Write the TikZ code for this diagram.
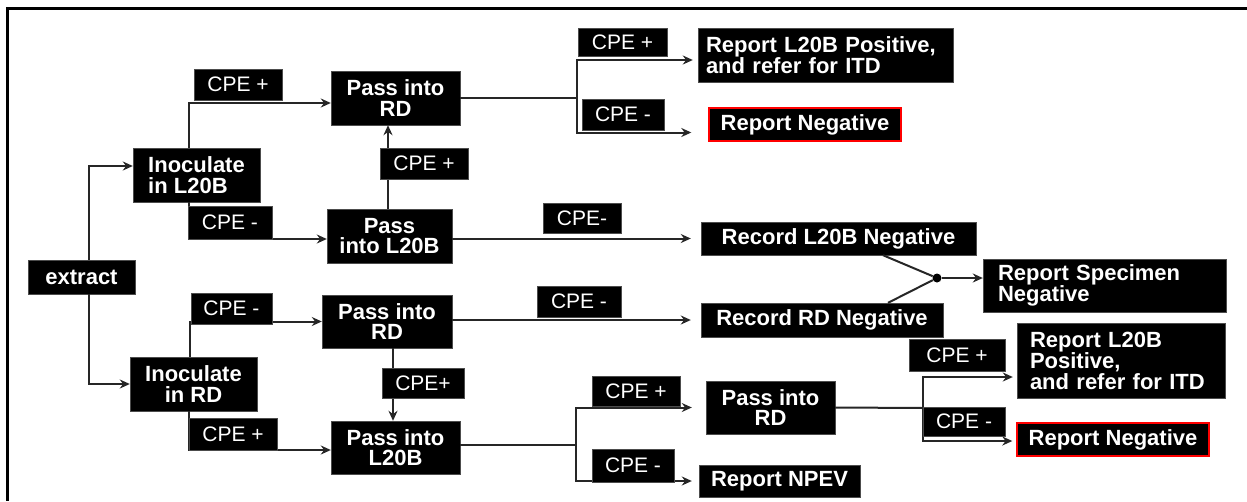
\documentclass[tikz,border=0pt]{standalone}
\usepackage{fontspec}
\setsansfont{Liberation Sans}
\usepackage{tikz}
\usetikzlibrary{arrows.meta, positioning, calc}
\newcommand{\boxfont}{\fontsize{22}{20.5}\selectfont}
\newcommand{\tagfont}{\fontsize{21}{21}\selectfont}
\tikzset{
  % Box styles
  stepbox/.style={rectangle, draw=black!70, fill=black, text=white, font=\sffamily\bfseries\boxfont, align=center, inner sep=1pt},
  leftbox/.style={stepbox, align=left},
  redbox/.style={stepbox, draw=red, line width=1.4pt},
  tagbox/.style={rectangle, draw=black!70, fill=black, text=white, font=\sffamily\tagfont, inner sep=0pt},
  % Arrow styles
  link/.style={line width=2pt, black!85},
  arrow/.style={link, -{Stealth[length=10pt, width=9pt]}},
  % Node styles
  joint/.style={circle, fill=black, inner sep=0pt, minimum size=9pt}
}

\begin{document}
\begin{tikzpicture}[x=1pt, y=-1pt]
  \useasboundingbox (0,0) rectangle (1247,501);
  % Frame
  \draw[line width=2.6pt] (1247,8.5) -- (7.5,8.5) -- (7.5,501);

  % Start
  \node[stepbox, minimum width=107pt, minimum height=34pt] (extract) at (81.5,277) {extract};

  % L20B branch
  \node[leftbox, minimum width=127pt, minimum height=54pt] (inocL) at (196.5,175) {Inoculate\\in L20B};
  \node[stepbox, minimum width=129pt, minimum height=54pt] (passRDa) at (395.5,98) {Pass into\\RD};
  \node[stepbox, minimum width=125pt, minimum height=54pt] (passLa) at (389.5,236) {Pass\\into L20B};
  \node[leftbox, text width=239pt, inner xsep=8pt, minimum height=54pt] (posA) at (825.5,55) {Report L20B Positive,\\and refer for ITD};
  \node[redbox, minimum width=192pt, minimum height=33pt] (negA) at (805,124.5) {Report Negative};
  \node[stepbox, minimum width=275pt, minimum height=33pt] (recL) at (838.5,238.5) {Record L20B Negative};

  % RD branch
  \node[stepbox, minimum width=127pt, minimum height=54pt] (inocR) at (193.5,384) {Inoculate\\in RD};
  \node[stepbox, minimum width=130pt, minimum height=53pt] (passRDb) at (387,321.5) {Pass into\\RD};
  \node[stepbox, minimum width=129pt, minimum height=53pt] (passLb) at (395.5,447.5) {Pass into\\L20B};
  \node[stepbox, minimum width=242pt, minimum height=34pt] (recR) at (822,320) {Record RD Negative};
  \node[stepbox, minimum width=129pt, minimum height=53pt] (passRDc) at (770.5,407.5) {Pass into\\RD};
  \node[stepbox, minimum width=161pt, minimum height=32pt] (npev) at (779.5,481) {Report NPEV};
  \node[leftbox, text width=182pt, inner xsep=13pt, minimum height=75pt] (posB) at (1121,360.5) {Report L20B\\Positive,\\and refer for ITD};
  \node[redbox, minimum width=192pt, minimum height=33pt] (negB) at (1113,439.5) {Report Negative};

  % Merge
  \node[joint] (join) at (937,278) {};
  \node[leftbox, text width=213pt, inner xsep=15pt, minimum height=53pt] (specNeg) at (1104.5,285.5) {Report Specimen\\Negative};

  % Branch points
  \coordinate (brA) at (577,98);
  \coordinate (brB) at (576,445);
  \coordinate (brC) at (923,408);

  % Connections
  \draw[arrow] ([xshift=7.5pt]extract.north) |- ([yshift=9pt]inocL.west);
  \draw[arrow] ([xshift=7.5pt]extract.south) |- (inocR.west);
  \draw[arrow] ([xshift=-8pt]inocL.north) |- ([yshift=-5pt]passRDa.west);
  \draw[arrow] ([xshift=-8pt]inocL.south) |- ([yshift=-3pt]passLa.west);
  \draw[arrow] ([xshift=-1.5pt]passLa.north) -- ([xshift=-1.5pt]passLa.north |- passRDa.south);
  \draw[link] (passRDa.east) -- (brA);
  \draw[arrow, shorten >=5pt] (brA) |- ([yshift=-5pt]posA.west);
  \draw[arrow, shorten >=17pt] (brA) |- ([yshift=-8pt]negA.west);
  \draw[arrow, shorten >=10pt] (passLa.east |- recL.west) -- (recL.west);

  \draw[arrow] ([xshift=-3.5pt]inocR.north) |- (passRDb.west);
  \draw[arrow] ([xshift=-4.5pt]inocR.south) |- ([yshift=-2.5pt]passLb.west);
  \draw[arrow] ([xshift=6pt]passRDb.south) -- ([xshift=6pt]passRDb.south |- passLb.north);
  \draw[arrow, shorten >=10pt] (passRDb.east |- recR.west) -- (recR.west);
  \draw[link] (passLb.east |- brB) -- (brB);
  \draw[arrow, shorten >=14pt] (brB) |- (passRDc.west);
  \draw[arrow, shorten >=7pt] (brB) |- (npev.west);
  \draw[link] (passRDc.east) -- (brC);
  \draw[arrow, shorten >=4pt] (brC) |- ([yshift=-16.5pt]posB.west);
  \draw[arrow, shorten >=4pt] (brC) |- ([yshift=-1.5pt]negB.west);

  \draw[link] ([xshift=44.5pt]recL.south) -- (join);
  \draw[link] ([xshift=66pt]recR.north) -- (join);
  \draw[arrow] (join) -- (join -| specNeg.west);

  % CPE tags
  \foreach \name/\x/\y/\w/\h/\txt in {
      tagA1/238/84.5/88/31/CPE +, tagA2/230/222.5/84/33/CPE -,
      tagA3/424/163.5/88/31/CPE +, tagA4/622.5/42/89/28/CPE +,
      tagA5/623/114.5/82/31/CPE -, tagA6/582/218/78/30/CPE-,
      tagB1/231.5/308.5/81/31/CPE -, tagB2/233/434/88/32/CPE +,
      tagB3/423/383/82/30/CPE+, tagB4/579/301.5/84/31/CPE -,
      tagB5/636/391/88/30/CPE +, tagB6/633/465.5/82/33/CPE -,
      tagB7/957/355/96/32/CPE +, tagB8/964/421.5/82/29/CPE -} {
    \node[tagbox, minimum width=\w pt, minimum height=\h pt] (\name) at (\x,\y) {\txt};
  }
\end{tikzpicture}
\end{document}
